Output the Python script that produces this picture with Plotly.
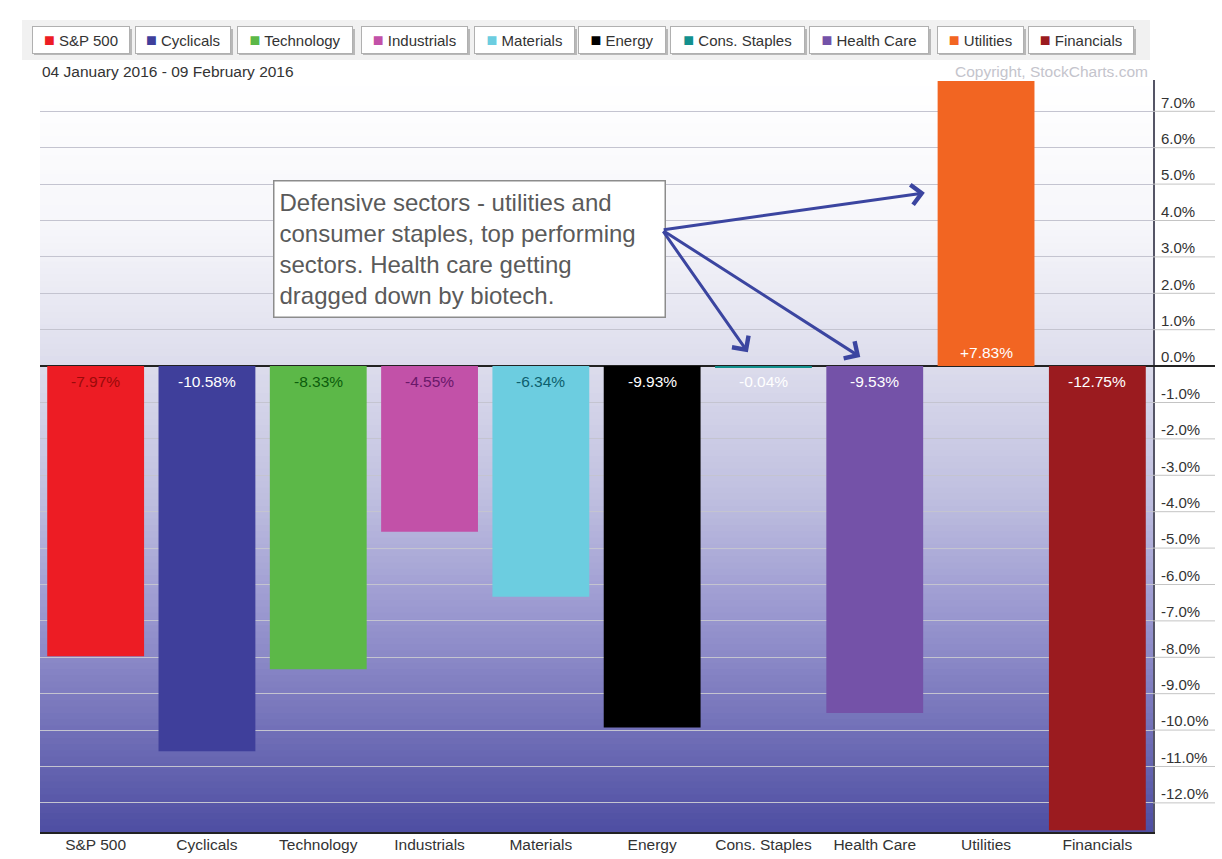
import plotly.graph_objects as go

# ---------------- data ----------------
categories = ["S&P 500", "Cyclicals", "Technology", "Industrials", "Materials",
              "Energy", "Cons. Staples", "Health Care", "Utilities", "Financials"]
values = [-7.97, -10.58, -8.33, -4.55, -6.34, -9.93, -0.04, -9.53, 7.83, -12.75]
bar_colors = ["#ed1c24", "#3f3f9b", "#5cb848", "#c251a8", "#6ccde0",
              "#000000", "#12908e", "#7452a8", "#f26522", "#9b1b1f"]
label_colors = ["#9a0a0a", "#ffffff", "#0c5c0c", "#6a186a", "#0d5f6e",
                "#ffffff", "#ffffff", "#ffffff", "#ffffff", "#ffffff"]
tick_values = list(range(-12, 8))
tick_labels = [f"{t:.1f}%" for t in tick_values]
date_text = "04 January 2016 - 09 February 2016"
copyright_text = "Copyright, StockCharts.com"
note_lines = ["Defensive sectors - utilities and",
              "consumer staples, top performing",
              "sectors. Health care getting",
              "dragged down by biotech."]

# ---------------- layout constants ----------------
W, H = 1222, 859
ML, MR, MT, MB = 40, 69, 80, 27
PW = W - ML - MR
PH = H - MT - MB
YMIN, YMAX = -12.8, 7.86
FONT = "Liberation Sans, Arial, sans-serif"


def px_x(px):
    return (px - ML) / PW


def px_y(py):
    return (H - MB - py) / PH


# background gradient stops (value -> colour)
grad_stops = [(7.86, (255, 255, 255)), (3.74, (246, 246, 250)), (0.0, (220, 220, 236)),
              (-3.68, (190, 190, 223)), (-6.43, (158, 156, 210)), (-9.17, (124, 122, 190)),
              (-12.8, (78, 78, 162))]


def grad_color(v):
    for (v0, c0), (v1, c1) in zip(grad_stops[:-1], grad_stops[1:]):
        if v1 <= v <= v0:
            t = (v0 - v) / (v0 - v1)
            c = [round(a + (b - a) * t) for a, b in zip(c0, c1)]
            return f"rgb({c[0]},{c[1]},{c[2]})"
    return "rgb(255,255,255)"


fig = go.Figure()

fig.add_trace(go.Bar(
    x=categories, y=values, marker=dict(color=bar_colors, line=dict(width=0)),
    width=0.87, hoverinfo="skip", showlegend=False))

shapes = []
# gradient background (bands overlap slightly to avoid seams)
N = 120
step = (YMAX - YMIN) / N
for i in range(N):
    y0 = YMIN + step * i
    y1 = y0 + step
    shapes.append(dict(type="rect", xref="paper", yref="y", x0=0, x1=1,
                       y0=y0, y1=min(YMAX, y1 + step * 0.6),
                       fillcolor=grad_color((y0 + y1) / 2), line=dict(width=0), layer="below"))
# gridline extensions into the label area
for t in tick_values:
    shapes.append(dict(type="line", xref="paper", yref="y", x0=1, x1=px_x(1215), y0=t, y1=t,
                       line=dict(color="#222222" if t == 0 else "#c4c4c4",
                                 width=2 if t == 0 else 1)))
# top strip behind legend
shapes.append(dict(type="rect", xref="paper", yref="paper", x0=px_x(22), x1=px_x(1150),
                   y0=px_y(60), y1=px_y(20), fillcolor="#f1f1f1", line=dict(width=0),
                   layer="below"))

annotations = []
# value labels at the bar base
for cat, v, lc in zip(categories, values, label_colors):
    annotations.append(dict(
        xref="x", yref="y", x=cat, y=0, yshift=14 if v > 0 else -15,
        text=(f"+{v:.2f}%" if v > 0 else f"{v:.2f}%"), showarrow=False,
        xanchor="center", yanchor="middle",
        font=dict(size=15.5, color=lc, family=FONT)))

# legend buttons
legend_left = [32, 135, 237, 361, 474, 578, 670, 809, 937, 1028]
legend_width = [98, 96, 116, 107, 101, 88, 135, 120, 87, 106]
for name, col, lx, lw in zip(categories, bar_colors, legend_left, legend_width):
    shapes.append(dict(type="rect", xref="paper", yref="paper",
                       x0=px_x(lx + 2), x1=px_x(lx + lw + 2), y0=px_y(55), y1=px_y(29),
                       fillcolor="#b8b8b8", line=dict(width=0)))
    annotations.append(dict(
        xref="paper", yref="paper", x=px_x(lx), y=px_y(40), xanchor="left", yanchor="middle",
        text=f"<span style='color:{col};font-size:18px'>■</span> {name}", showarrow=False,
        font=dict(size=15, color="#333333", family=FONT),
        bgcolor="#ffffff", bordercolor="#b0b0b0", borderwidth=1, borderpad=3,
        width=lw - 8, height=20, align="center", valign="middle"))

annotations.append(dict(xref="paper", yref="paper", x=0, y=px_y(72), xanchor="left",
                        yanchor="middle", text=date_text, showarrow=False,
                        font=dict(size=15.5, color="#333333", family=FONT)))
annotations.append(dict(xref="paper", yref="paper", x=px_x(1150), y=px_y(72), xanchor="right",
                        yanchor="middle", text=copyright_text, showarrow=False,
                        font=dict(size=15.5, color="#c4c4cc", family=FONT)))

# note box
annotations.append(dict(
    xref="paper", yref="paper", x=px_x(273), y=px_y(180), xanchor="left", yanchor="top",
    text="<br>".join(note_lines), showarrow=False, align="left", valign="middle",
    font=dict(size=24, color="#5a5a5a", family=FONT),
    bgcolor="#ffffff", bordercolor="#8c8c8c", borderwidth=1.5, borderpad=5,
    width=393 - 13, height=138 - 13))

# arrows (tail -> tip, in category index / value units)
arrow_tail = (5.09, 3.74)
arrow_tips = [(7.45, 4.76), (5.86, 0.38), (6.87, 0.25)]
for tx, ty in arrow_tips:
    annotations.append(dict(
        xref="x", yref="y", x=tx, y=ty, axref="x", ayref="y",
        ax=arrow_tail[0], ay=arrow_tail[1], text="", showarrow=True,
        arrowhead=4, arrowsize=1.3, arrowwidth=3, arrowcolor="#3b45a0", standoff=0))

fig.update_layout(
    width=W, height=H, margin=dict(l=ML, r=MR, t=MT, b=MB, autoexpand=False),
    paper_bgcolor="#ffffff", plot_bgcolor="#ffffff",
    bargap=0.13, shapes=shapes, annotations=annotations, showlegend=False,
    font=dict(family=FONT, color="#333333"),
    xaxis=dict(range=[-0.5, 9.5], showgrid=False, showline=True, linecolor="#222222",
               linewidth=2, ticks="", tickfont=dict(size=15.5, color="#333333"),
               automargin=False, ticklabelstandoff=-3, fixedrange=True),
    yaxis=dict(side="right", range=[YMIN, YMAX], tickvals=tick_values, ticktext=tick_labels,
               showgrid=True, gridcolor="#c4c4d0", gridwidth=1,
               zeroline=True, zerolinecolor="#222222", zerolinewidth=2,
               showline=True, linecolor="#555566", linewidth=2, ticks="",
               ticklabelshift=-9, ticklabelstandoff=3, automargin=False,
               tickfont=dict(size=15, color="#333333"), fixedrange=True),
)

fig.write_html("out.html")
